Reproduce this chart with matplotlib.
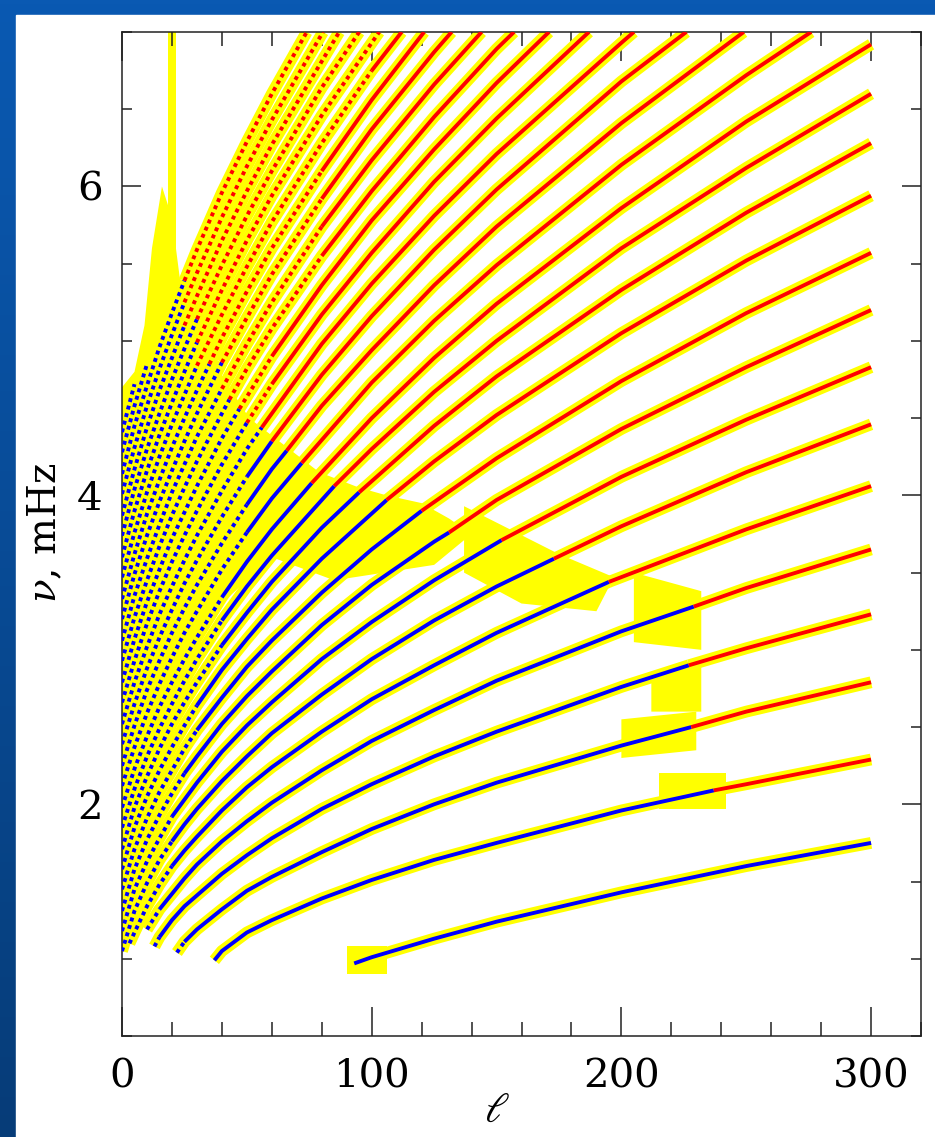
import numpy as np
import matplotlib.pyplot as plt
from matplotlib.colors import LinearSegmentedColormap
from matplotlib.patches import Rectangle, Polygon
from matplotlib.ticker import MultipleLocator

plt.rcParams['mathtext.fontset'] = 'dejavuserif'

# ridges: f mode first, then p1, p2, ... (degree l, frequency in mHz)
ridge_l = [
    [93, 100, 125, 150, 200, 250, 300],
    [37, 40, 50, 60, 80, 100, 125, 150, 200, 237, 250, 300],
    [22, 25, 30, 40, 50, 60, 80, 100, 125, 150, 200, 228, 250, 300],
    [13, 15, 20, 25, 30, 40, 50, 60, 80, 100, 125, 150, 200, 227, 250, 300],
    [10, 15, 20, 25, 30, 40, 50, 60, 80, 100, 125, 150, 200, 229, 250, 300],
    [3, 5, 10, 15, 20, 25, 30, 40, 50, 60, 80, 100, 125, 150, 195, 250, 300],
    [0, 5, 10, 15, 20, 25, 30, 40, 50, 60, 80, 100, 125, 150, 173, 200, 250, 300],
    [0, 5, 10, 15, 20, 25, 30, 40, 50, 60, 80, 100, 125, 152, 200, 250, 300],
    [0, 5, 10, 15, 20, 25, 30, 40, 50, 60, 80, 100, 125, 131, 150, 200, 250, 300],
    [0, 5, 10, 15, 20, 25, 30, 40, 50, 60, 80, 100, 120, 150, 200, 250, 300],
    [0, 5, 10, 15, 20, 25, 30, 40, 50, 60, 80, 106, 125, 150, 200, 250, 300],
    [0, 5, 10, 15, 20, 25, 30, 40, 50, 60, 80, 95, 125, 150, 200, 250, 300],
    [0, 5, 10, 15, 20, 25, 30, 40, 50, 60, 85, 100, 125, 150, 200, 250, 300],
    [0, 5, 10, 15, 20, 25, 30, 40, 50, 60, 76, 100, 125, 150, 200, 250, 300],
    [0, 5, 10, 15, 20, 25, 30, 40, 50, 60, 72, 100, 125, 150, 200, 250, 276],
    [0, 5, 10, 15, 20, 25, 30, 40, 50, 60, 66, 80, 100, 125, 150, 200, 249],
    [0, 5, 10, 15, 20, 25, 30, 40, 50, 60, 80, 100, 125, 150, 200, 226],
    [0, 5, 10, 15, 20, 25, 30, 40, 50, 56, 80, 100, 125, 150, 200, 205],
    [0, 5, 10, 15, 20, 25, 30, 40, 50, 60, 80, 100, 125, 150, 187],
    [0, 5, 10, 15, 20, 25, 30, 40, 47, 60, 80, 100, 125, 150, 171],
    [0, 5, 10, 15, 20, 25, 30, 40, 43, 50, 60, 80, 100, 125, 150, 157],
    [0, 5, 10, 15, 20, 25, 30, 40, 50, 60, 80, 100, 125, 144],
    [0, 5, 10, 15, 20, 25, 30, 40, 50, 60, 80, 100, 125, 132],
    [0, 5, 10, 15, 20, 25, 30, 35, 40, 50, 60, 80, 100, 121],
    [0, 5, 10, 15, 20, 25, 30, 40, 50, 60, 80, 100, 112],
    [0, 5, 10, 15, 20, 25, 30, 40, 50, 60, 80, 103],
    [0, 5, 10, 15, 20, 25, 30, 40, 50, 60, 80, 95],
    [0, 5, 10, 15, 20, 25, 30, 40, 50, 60, 80, 87],
    [0, 5, 10, 15, 20, 25, 30, 40, 50, 60, 80.5],
    [0, 5, 10, 15, 20, 25, 30, 40, 50, 60, 74],
    [0, 5, 10],
    [0, 5],
]
ridge_nu = [
    [0.97, 1.01, 1.13, 1.24, 1.43, 1.60, 1.75],
    [0.99, 1.05, 1.17, 1.25, 1.39, 1.51, 1.64, 1.75, 1.96, 2.09, 2.13, 2.29],
    [1.04, 1.11, 1.19, 1.32, 1.44, 1.53, 1.69, 1.84, 2.00, 2.14, 2.38, 2.50, 2.60, 2.79],
    [1.08, 1.14, 1.25, 1.34, 1.41, 1.55, 1.67, 1.78, 1.97, 2.13, 2.31, 2.47, 2.76, 2.90, 3.01, 3.23],
    [1.19, 1.32, 1.42, 1.52, 1.61, 1.76, 1.89, 2.01, 2.22, 2.41, 2.61, 2.80, 3.12, 3.28, 3.40, 3.65],
    [1.10, 1.17, 1.34, 1.48, 1.60, 1.70, 1.79, 1.96, 2.11, 2.24, 2.47, 2.68, 2.90, 3.11, 3.44, 3.78, 4.06],
    [1.05, 1.31, 1.49, 1.64, 1.76, 1.87, 1.97, 2.15, 2.31, 2.46, 2.71, 2.94, 3.19, 3.41, 3.59, 3.80, 4.15, 4.46],
    [1.18, 1.45, 1.63, 1.78, 1.92, 2.03, 2.14, 2.34, 2.51, 2.66, 2.94, 3.18, 3.45, 3.71, 4.12, 4.49, 4.83],
    [1.31, 1.58, 1.77, 1.93, 2.07, 2.20, 2.31, 2.52, 2.70, 2.86, 3.16, 3.42, 3.70, 3.76, 3.97, 4.43, 4.83, 5.20],
    [1.45, 1.71, 1.91, 2.08, 2.22, 2.36, 2.48, 2.69, 2.89, 3.06, 3.37, 3.65, 3.90, 4.24, 4.74, 5.18, 5.57],
    [1.58, 1.85, 2.05, 2.22, 2.37, 2.51, 2.64, 2.87, 3.07, 3.26, 3.59, 3.97, 4.22, 4.52, 5.05, 5.52, 5.94],
    [1.71, 1.98, 2.18, 2.36, 2.52, 2.66, 2.79, 3.03, 3.24, 3.44, 3.79, 4.02, 4.45, 4.77, 5.33, 5.83, 6.28],
    [1.85, 2.10, 2.31, 2.49, 2.65, 2.80, 2.94, 3.19, 3.41, 3.61, 4.06, 4.30, 4.67, 5.00, 5.60, 6.12, 6.60],
    [1.98, 2.23, 2.44, 2.63, 2.79, 2.94, 3.08, 3.34, 3.57, 3.78, 4.08, 4.50, 4.89, 5.24, 5.86, 6.42, 6.92],
    [2.12, 2.37, 2.59, 2.78, 2.95, 3.11, 3.25, 3.52, 3.76, 3.98, 4.21, 4.73, 5.13, 5.49, 6.14, 6.72, 7.00],
    [2.25, 2.51, 2.74, 2.93, 3.11, 3.27, 3.42, 3.69, 3.94, 4.17, 4.29, 4.58, 4.94, 5.36, 5.74, 6.41, 7.00],
    [2.39, 2.65, 2.88, 3.08, 3.26, 3.43, 3.58, 3.86, 4.12, 4.35, 4.78, 5.16, 5.59, 5.98, 6.68, 7.00],
    [2.52, 2.79, 3.02, 3.23, 3.41, 3.58, 3.74, 4.03, 4.30, 4.44, 4.98, 5.37, 5.81, 6.21, 6.93, 7.00],
    [2.66, 2.93, 3.17, 3.38, 3.57, 3.74, 3.90, 4.20, 4.47, 4.72, 5.17, 5.57, 6.03, 6.44, 7.00],
    [2.79, 3.07, 3.31, 3.52, 3.72, 3.89, 4.06, 4.37, 4.56, 4.90, 5.36, 5.78, 6.24, 6.67, 7.00],
    [2.93, 3.21, 3.45, 3.67, 3.87, 4.05, 4.22, 4.53, 4.62, 4.82, 5.08, 5.55, 5.97, 6.45, 6.89, 7.00],
    [3.06, 3.35, 3.59, 3.81, 4.02, 4.20, 4.38, 4.69, 4.98, 5.25, 5.74, 6.17, 6.66, 7.00],
    [3.20, 3.49, 3.74, 3.96, 4.16, 4.35, 4.53, 4.86, 5.15, 5.43, 5.92, 6.37, 6.87, 7.00],
    [3.33, 3.62, 3.88, 4.10, 4.31, 4.50, 4.68, 4.85, 5.02, 5.32, 5.60, 6.10, 6.56, 7.00],
    [3.47, 3.76, 4.02, 4.25, 4.46, 4.65, 4.84, 5.17, 5.48, 5.77, 6.28, 6.75, 7.00],
    [3.60, 3.90, 4.16, 4.39, 4.60, 4.80, 4.99, 5.33, 5.65, 5.94, 6.46, 7.00],
    [3.74, 4.04, 4.30, 4.53, 4.75, 4.95, 5.14, 5.49, 5.81, 6.10, 6.64, 7.00],
    [3.87, 4.17, 4.44, 4.68, 4.89, 5.10, 5.29, 5.65, 5.97, 6.27, 6.81, 7.00],
    [4.01, 4.31, 4.58, 4.82, 5.04, 5.25, 5.44, 5.80, 6.13, 6.43, 7.00],
    [4.14, 4.45, 4.71, 4.96, 5.18, 5.39, 5.59, 5.96, 6.29, 6.60, 7.00],
    [4.28, 4.58, 4.85],
    [4.41, 4.72],
]
# degree where each ridge turns from the blue data set to the red one (None: blue only)
red_from = [None, 237, 228, 227, 229, 195, 173, 152, 131, 120, 106, 95, 85, 76, 72, 66, 60,
            56, 50, 47, 43, 40, 40, 35, 30, 30, 30, 25, 25, 25, None, None]

# regions covered by large error bars (degree, mHz)
err_regions = [
    [(0, 1.7), (0, 4.7), (5, 4.8), (9, 5.1), (12, 5.6), (16, 6.0), (20, 5.8), (24, 5.3),
     (39, 4.8), (51, 4.5), (67, 4.3), (79, 4.15), (95, 4.05), (106, 4.0), (120, 3.95),
     (131, 3.85), (140, 3.75), (125, 3.55), (105, 3.5), (85, 3.45), (60, 3.6), (40, 3.3),
     (30, 3.0), (20, 2.5), (10, 2.0)],
    [(18.5, 5.5), (18.5, 7.0), (21.5, 7.0), (21.5, 5.5)],
    [(137, 3.93), (175, 3.62), (197, 3.47), (190, 3.25), (160, 3.3), (137, 3.5)],
    [(205, 3.5), (232, 3.38), (232, 3.0), (205, 3.05)],
    [(212, 2.85), (232, 2.95), (232, 2.6), (212, 2.6)],
    [(200, 2.55), (230, 2.6), (230, 2.35), (200, 2.3)],
    [(215, 2.2), (242, 2.2), (242, 1.97), (215, 1.97)],
    [(90, 0.9), (90, 1.08), (106, 1.08), (106, 0.9)],
]

YEL, BLU, RED = '#FFFF00', '#0000FF', '#FF0000'

fig = plt.figure(figsize=(9.35, 11.37), dpi=100)
bg = fig.add_axes([0, 0, 1, 1], zorder=-10)
grad = np.linspace(0, 1, 256).reshape(-1, 1)
bg.imshow(grad, aspect='auto', extent=[0, 1, 0, 1],
          cmap=LinearSegmentedColormap.from_list('slide', ['#0A59B2', '#063C78']))
bg.add_patch(Rectangle((16 / 935, 0), 1, 1 - 15 / 1137, color='white'))
bg.set_xlim(0, 1)
bg.set_ylim(0, 1)
bg.axis('off')

ax = fig.add_axes([122 / 935, 101 / 1137, 799 / 935, 1004 / 1137])

for reg in err_regions:
    ax.add_patch(Polygon(reg, closed=True, facecolor=YEL, edgecolor=YEL, lw=0, zorder=1))


def draw_ridge(l, v, color):
    ax.plot(l, v, color=YEL, lw=8.5, solid_capstyle='butt', solid_joinstyle='round', zorder=2)
    steep = np.diff(v) / np.diff(l) > 0.023
    i = 0
    while i < len(steep):
        j = i
        while j + 1 < len(steep) and steep[j + 1] == steep[i]:
            j += 1
        ls = (0, (1.0, 1.0)) if steep[i] else '-'
        ax.plot(l[i:j + 2], v[i:j + 2], color=color, lw=2.8, ls=ls,
                solid_capstyle='butt', solid_joinstyle='round', zorder=3)
        i = j + 1


for l, v, s in zip(ridge_l, ridge_nu, red_from):
    l = np.asarray(l, float)
    v = np.asarray(v, float)
    if s is None:
        draw_ridge(l, v, BLU)
        continue
    k = int(np.searchsorted(l, s))
    if k > 0:
        draw_ridge(l[:k + 1], v[:k + 1], BLU)
    draw_ridge(l[k:], v[k:], RED)

ax.set_xlim(0, 320)
ax.set_ylim(0.5, 7)
ax.xaxis.set_major_locator(MultipleLocator(100))
ax.xaxis.set_minor_locator(MultipleLocator(20))
ax.yaxis.set_major_locator(MultipleLocator(2))
ax.yaxis.set_minor_locator(MultipleLocator(0.5))
ax.tick_params(which='both', direction='in', top=True, right=True, width=1.1, color='#222222')
ax.xaxis.set_tick_params(which='major', length=21, pad=16)
ax.xaxis.set_tick_params(which='minor', length=10)
ax.yaxis.set_tick_params(which='major', length=14, pad=14)
ax.yaxis.set_tick_params(which='minor', length=7)
for lab in ax.get_xticklabels() + ax.get_yticklabels():
    lab.set_fontfamily('DejaVu Serif')
    lab.set_fontsize(29)
for sp in ax.spines.values():
    sp.set_linewidth(1.1)
    sp.set_color('#222222')

fig.text(45 / 935, 1 - 533 / 1137, r'$\nu$, mHz', rotation=90, ha='center', va='center',
         fontsize=28, family='DejaVu Serif')
fig.text(497 / 935, 1 - 1110 / 1137, r'$\ell$', ha='center', va='center', fontsize=30)

fig.savefig('out.png', dpi=100)
